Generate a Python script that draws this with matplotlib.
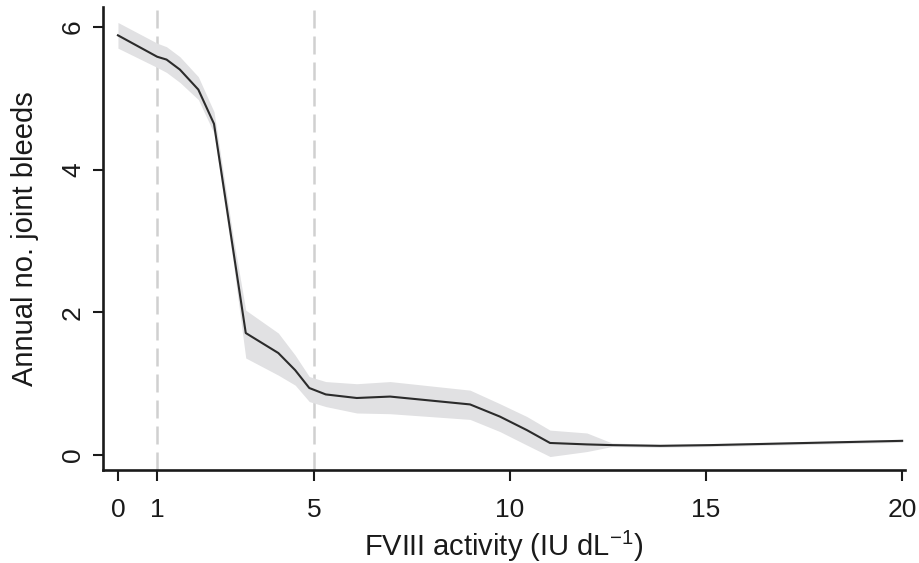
import matplotlib
matplotlib.use("Agg")
import matplotlib.pyplot as plt

plt.rcParams['font.family'] = ['Liberation Sans', 'DejaVu Sans']
plt.rcParams['mathtext.fontset'] = 'custom'
plt.rcParams['mathtext.rm'] = 'Liberation Sans'

fviii = [0.0, 1.0, 1.24, 1.58, 2.05, 2.45, 2.94, 3.26, 4.09, 4.52, 4.88, 5.30, 6.09, 6.94, 8.98, 9.74, 10.43, 11.02, 11.96, 12.6, 13.83, 15.1, 20.0]
bleeds = [5.88, 5.58, 5.54, 5.40, 5.12, 4.64, 2.87, 1.71, 1.43, 1.19, 0.94, 0.85, 0.80, 0.82, 0.71, 0.54, 0.35, 0.17, 0.15, 0.14, 0.13, 0.14, 0.20]
upper = [6.06, 5.77, 5.72, 5.58, 5.30, 4.81, 3.05, 2.03, 1.71, 1.40, 1.10, 1.03, 1.00, 1.03, 0.91, 0.72, 0.54, 0.35, 0.31, 0.17, 0.15, 0.16, 0.22]
lower = [5.70, 5.43, 5.36, 5.22, 4.98, 4.51, 2.70, 1.36, 1.12, 0.98, 0.75, 0.68, 0.59, 0.58, 0.50, 0.33, 0.14, -0.02, 0.05, 0.12, 0.11, 0.12, 0.18]

ref_lines = [1, 5]
xticks = [0, 1, 5, 10, 15, 20]
yticks = [0, 2, 4, 6]

fig = plt.figure(figsize=(9.2, 5.63), dpi=100)
ax = fig.add_axes([0.112, 0.165, 0.872, 0.823])

for r in ref_lines:
    ax.axvline(r, color='#d0d0d0', lw=1.8, ls=(0, (7.2, 3.2)), zorder=1)

ax.fill_between(fviii, lower, upper, color='#e1e1e3', lw=0, zorder=2)
ax.plot(fviii, bleeds, color='#2b2b2b', lw=1.5, zorder=3)

ax.set_xlim(-0.38, 20.08)
ax.set_ylim(-0.21, 6.28)
ax.set_xticks(xticks)
ax.set_yticks(yticks)
ax.set_yticklabels([str(v) for v in yticks], rotation=90, va='center')

for s in ['top', 'right']:
    ax.spines[s].set_visible(False)
for s in ['left', 'bottom']:
    ax.spines[s].set_linewidth(1.9)
    ax.spines[s].set_color('#1a1a1a')

ax.tick_params(axis='x', length=8, width=1.5, labelsize=19, pad=12, colors='#1a1a1a')
ax.tick_params(axis='y', length=7, width=1.5, labelsize=19, pad=6, colors='#1a1a1a')

ax.set_xlabel('FVIII activity (IU dL$^{\\mathregular{-1}}$)', fontsize=21, labelpad=5, color='#1a1a1a')
ax.set_ylabel('Annual no. joint bleeds', fontsize=21, labelpad=16, color='#1a1a1a')

fig.savefig('out.png', dpi=100)
